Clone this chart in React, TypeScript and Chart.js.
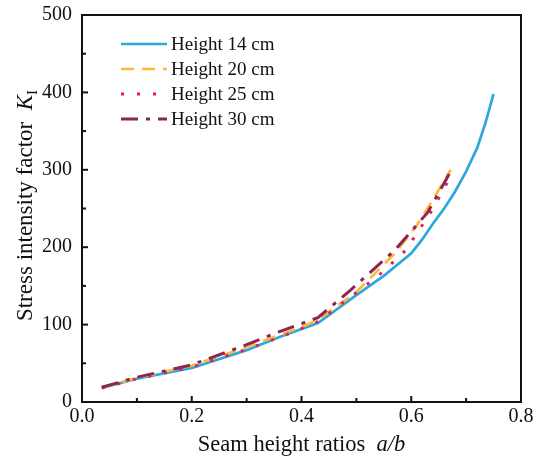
import React, { useEffect, useRef } from "react";
import { Chart, registerables } from "chart.js";
Chart.register(...registerables);

const seriesNames = ["Height 14 cm", "Height 20 cm", "Height 25 cm", "Height 30 cm"];

const x14 = [0.036, 0.1, 0.2, 0.3, 0.36, 0.43, 0.5, 0.55, 0.6, 0.62, 0.64, 0.66, 0.68, 0.7, 0.72, 0.735, 0.75];
const y14 = [18, 30, 44, 67, 84, 102, 138, 163, 192, 210, 231, 250, 272, 298, 328, 360, 398];

const x20 = [0.036, 0.1, 0.2, 0.3, 0.4, 0.43, 0.5, 0.57, 0.61, 0.64, 0.672];
const y20 = [19, 31, 47, 71, 97, 106, 142, 192, 228, 262, 300];

const x25 = [0.036, 0.1, 0.2, 0.3, 0.38, 0.43, 0.46, 0.54, 0.59, 0.64, 0.672];
const y25 = [18, 30, 45, 68, 89, 104, 120, 163, 196, 250, 292];

const x30 = [0.036, 0.1, 0.2, 0.3, 0.36, 0.43, 0.49, 0.57, 0.63, 0.675];
const y30 = [19, 32, 48, 74, 91, 109, 145, 196, 245, 302];

const xTicks = [0, 0.2, 0.4, 0.6, 0.8];
const yTicks = [0, 100, 200, 300, 400, 500];

const colors = ["#2EA6DE", "#FCB93C", "#E21F5F", "#8C2653"];
const dashes: number[][] = [[], [13, 8], [3, 13], [17, 8, 4, 8]];
const widths = [2.7, 2.7, 3, 3];

const SERIF = "'Liberation Serif', 'Times New Roman', serif";

function pts(xs: number[], ys: number[]) {
  return xs.map((x, i) => ({ x, y: ys[i] }));
}

const decorPlugin = {
  id: "decor",
  afterDraw(chart: any) {
    const ctx = chart.ctx as CanvasRenderingContext2D;
    const a = chart.chartArea;
    const xs = chart.scales.x;
    const ys = chart.scales.y;
    ctx.save();
    // frame
    ctx.strokeStyle = "#111";
    ctx.lineWidth = 2;
    ctx.setLineDash([]);
    ctx.strokeRect(a.left, a.top, a.right - a.left, a.bottom - a.top);
    // ticks (inward)
    for (let i = 0; i <= 8; i++) {
      const v = i / 10;
      const px = xs.getPixelForValue(v);
      const len = i % 2 === 0 ? 6 : 4;
      ctx.beginPath();
      ctx.moveTo(px, a.bottom);
      ctx.lineTo(px, a.bottom - len);
      ctx.stroke();
    }
    for (let i = 0; i <= 10; i++) {
      const v = i * 50;
      const py = ys.getPixelForValue(v);
      const len = i % 2 === 0 ? 6 : 4;
      ctx.beginPath();
      ctx.moveTo(a.left, py);
      ctx.lineTo(a.left + len, py);
      ctx.stroke();
    }
    // legend
    const lx0 = 121, lx1 = 167, ly0 = 44, lstep = 25;
    ctx.textBaseline = "middle";
    ctx.textAlign = "left";
    ctx.font = `19px ${SERIF}`;
    seriesNames.forEach((name, i) => {
      const y = ly0 + i * lstep;
      ctx.strokeStyle = colors[i];
      ctx.lineWidth = widths[i];
      ctx.setLineDash(dashes[i]);
      ctx.beginPath();
      ctx.moveTo(lx0, y);
      ctx.lineTo(lx1, y);
      ctx.stroke();
      ctx.setLineDash([]);
      ctx.fillStyle = "#111";
      ctx.fillText(name, lx1 + 4, y + 1);
    });
    // x title
    const cx = (a.left + a.right) / 2;
    const p1 = "Seam height ratios  ";
    const p2 = "a/b";
    ctx.textBaseline = "alphabetic";
    ctx.font = `22.5px ${SERIF}`;
    const w1 = ctx.measureText(p1).width;
    ctx.font = `italic 22.5px ${SERIF}`;
    const w2 = ctx.measureText(p2).width;
    const sx = cx - (w1 + w2) / 2;
    ctx.fillStyle = "#111";
    ctx.font = `22.5px ${SERIF}`;
    ctx.fillText(p1, sx, 451);
    ctx.font = `italic 22.5px ${SERIF}`;
    ctx.fillText(p2, sx + w1, 451);
    // y title
    const cy = (a.top + a.bottom) / 2 - 3;
    ctx.save();
    ctx.translate(32, cy);
    ctx.rotate(-Math.PI / 2);
    const q1 = "Stress intensity factor  ";
    const q2 = "K";
    const q3 = "I";
    ctx.font = `23px ${SERIF}`;
    const v1 = ctx.measureText(q1).width;
    ctx.font = `italic 23px ${SERIF}`;
    const v2 = ctx.measureText(q2).width;
    ctx.font = `15px ${SERIF}`;
    const v3 = ctx.measureText(q3).width;
    const s = -(v1 + v2 + v3) / 2;
    ctx.font = `23px ${SERIF}`;
    ctx.fillText(q1, s, 0);
    ctx.font = `italic 23px ${SERIF}`;
    ctx.fillText(q2, s + v1, 0);
    ctx.font = `15px ${SERIF}`;
    ctx.fillText(q3, s + v1 + v2, 5);
    ctx.restore();
    ctx.restore();
  },
};

export default function App() {
  const ref = useRef<HTMLCanvasElement | null>(null);
  useEffect(() => {
    document.body.style.margin = "0";
    const canvas = ref.current!;
    const all = [
      [x14, y14],
      [x20, y20],
      [x25, y25],
      [x30, y30],
    ];
    const chart = new Chart(canvas, {
      type: "line",
      data: {
        datasets: all.map(([xs, ys], i) => ({
          label: seriesNames[i],
          data: pts(xs, ys),
          borderColor: colors[i],
          backgroundColor: colors[i],
          borderWidth: widths[i],
          borderDash: dashes[i],
          pointRadius: 0,
          tension: 0,
          fill: false,
          order: 4 - i,
        })),
      },
      options: {
        responsive: false,
        animation: false,
        devicePixelRatio: 1,
        layout: { padding: { top: 15, right: 17, left: 0, bottom: 0 } },
        plugins: {
          legend: { display: false },
          tooltip: { enabled: false },
        },
        scales: {
          x: {
            type: "linear",
            min: 0,
            max: 0.8,
            afterBuildTicks: (s: any) => {
              s.ticks = xTicks.map((v) => ({ value: v }));
            },
            ticks: {
              callback: (v: any) => Number(v).toFixed(1),
              font: { family: SERIF, size: 20 },
              color: "#111",
              padding: 3,
              maxRotation: 0,
              autoSkip: false,
            },
            grid: { display: false, drawTicks: false },
            border: { display: false },
            afterFit: (s: any) => {
              s.height = 57;
              s.paddingLeft = 0;
              s.paddingRight = 0;
            },
          },
          y: {
            type: "linear",
            min: 0,
            max: 500,
            afterBuildTicks: (s: any) => {
              s.ticks = yTicks.map((v) => ({ value: v }));
            },
            ticks: {
              font: { family: SERIF, size: 20 },
              color: "#111",
              padding: 10,
              autoSkip: false,
            },
            grid: { display: false, drawTicks: false },
            border: { display: false },
            afterFit: (s: any) => {
              s.width = 82;
              s.paddingTop = 0;
              s.paddingBottom = 0;
            },
          },
        },
      },
      plugins: [decorPlugin],
    });
    return () => chart.destroy();
  }, []);
  return (
    <div style={{ width: 538, height: 459 }}>
      <canvas ref={ref} width={538} height={459} />
    </div>
  );
}
